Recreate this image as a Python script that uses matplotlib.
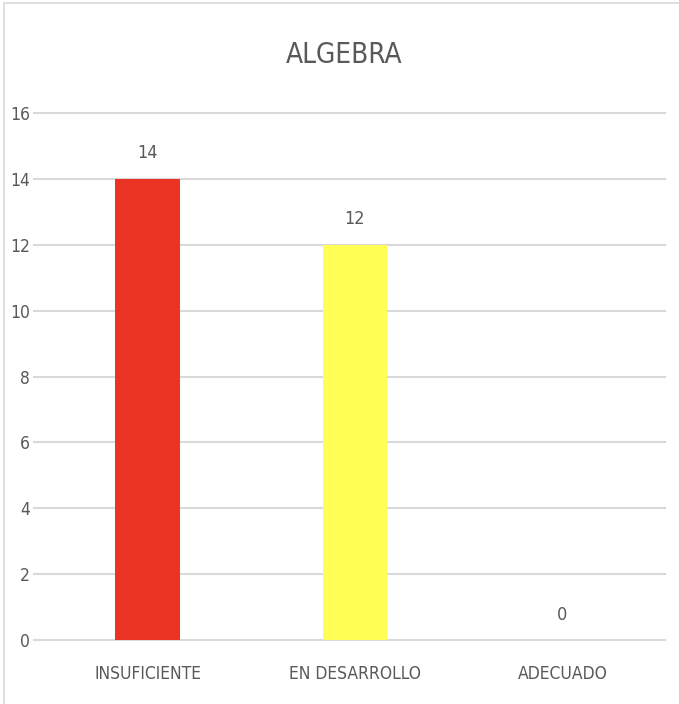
import matplotlib.pyplot as plt
from matplotlib.patches import Rectangle

categories = ['INSUFICIENTE', 'EN DESARROLLO', 'ADECUADO']
values = [14, 12, 0]
colors = ['#EA3323', '#FFFF55', '#FFFF55']
yticks = [0, 2, 4, 6, 8, 10, 12, 14, 16]

plt.rcParams['font.family'] = ['DejaVu Sans']
plt.rcParams['font.stretch'] = 'condensed'
txt = '#595959'

fig = plt.figure(figsize=(6.79, 7.04), dpi=100)
fig.patches.append(Rectangle((4/679, -0.01), 1.0, 1 - 3/704 + 0.01, transform=fig.transFigure,
                             fill=False, edgecolor='#D9D9D9', linewidth=1.2))
ax = fig.add_axes([34/679, 64/704, 631/679, 527/704])

x = range(len(categories))
bars = ax.bar(x, values, width=0.31, color=colors, zorder=3)
for xi, v in zip(x, values):
    ax.text(xi, v + 0.5, str(v), ha='center', va='bottom', fontsize=13, color=txt,
            fontstretch='condensed')

ax.set_ylim(0, 16)
ax.set_xlim(-0.547, 2.494)
ax.set_yticks(yticks)
ax.set_xticks(list(x))
ax.set_xticklabels(categories)
ax.tick_params(axis='both', length=0, labelsize=12.5, colors=txt)
ax.tick_params(axis='x', pad=18)
ax.tick_params(axis='y', pad=3)
ax.grid(axis='y', color='#D9D9D9', linewidth=1.5, zorder=0)
for gl in ax.get_ygridlines():
    gl.set_clip_on(False)
for s in ax.spines.values():
    s.set_visible(False)

fig.text(0.5 + 5/679, 1 - 55/704, 'ALGEBRA', ha='center', va='center', fontsize=20, color=txt,
         fontstretch='condensed')

fig.savefig('out.png', dpi=100)
